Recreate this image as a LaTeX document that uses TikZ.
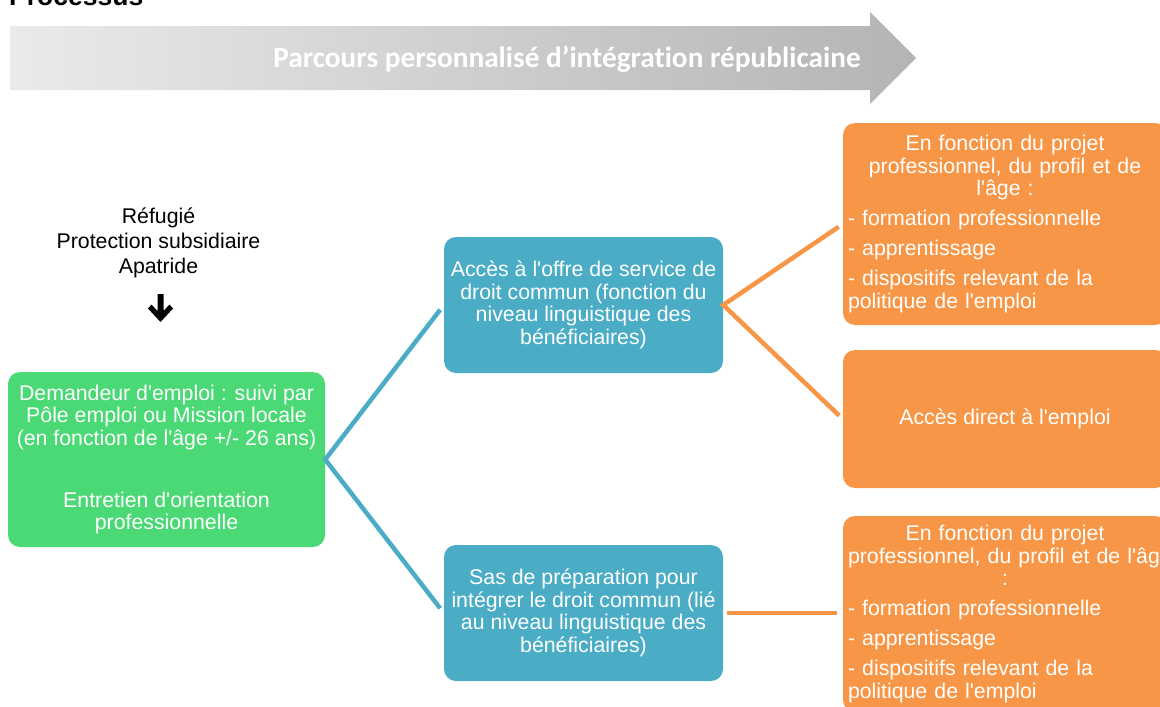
\documentclass[tikz,border=0pt]{standalone}
\usepackage{fontspec}
\setmainfont{Liberation Sans}
\newfontfamily\arialf{Liberation Sans}
\newfontfamily\calibrifont{Carlito}[Ligatures=NoCommon]
\definecolor{greenc}{HTML}{4AD974}
\definecolor{tealc}{HTML}{4BACC6}
\definecolor{orangec}{HTML}{F79646}
\definecolor{bannerL}{HTML}{EAEAEA}
\definecolor{bannerR}{HTML}{B4B4B4}
\begin{document}
\begin{tikzpicture}[x=1pt,y=-1pt,
  box/.style={rounded corners=12pt, inner sep=5pt, text=white, draw=none,
    font=\arialf\fontsize{21.3}{22.5}\selectfont},
  tealline/.style={draw=tealc, line width=4.5pt, line join=miter},
  orangeline/.style={draw=orangec, line width=4.5pt, line join=miter}]
\useasboundingbox (0,0) rectangle (1160,707);

% title
\node[anchor=base west, inner sep=0pt, font=\arialf\bfseries\fontsize{26.5}{30}\selectfont] (title) at (9,5) {Processus};

% banner arrow
\shade[left color=bannerL, right color=bannerR]
  (10,26) -- (870,26) -- (870,12) -- (916,58) -- (870,104) -- (870,90) -- (10,90) -- cycle;
\node[anchor=base, inner sep=0pt, text=white, font=\calibrifont\bfseries\fontsize{29.3}{34}\selectfont] (banner) at (567,67) {Parcours personnalisé d’intégration républicaine};

% statuses
\node[align=center, inner sep=0pt, font=\arialf\fontsize{21.3}{25}\selectfont] (statuts) at (158.5,243) {Réfugié\\Protection subsidiaire\\Apatride};
\fill (157.5,294) -- (163.5,294) -- (163.5,311) -- (169.5,304.5) -- (173,308.5) -- (160.5,322) -- (148,308.5) -- (151.5,304.5) -- (157.5,311) -- cycle;

% green box
\node[box, fill=greenc, minimum width=317pt, minimum height=175pt, align=center] (green) at (166.5,459.5)
  {Demandeur d'emploi : suivi par\\Pôle emploi ou Mission locale\\(en fonction de l'âge +/- 26 ans)\\[39.5pt]Entretien d'orientation\\professionnelle};

% teal boxes
\node[box, fill=tealc, minimum width=279pt, minimum height=136pt, align=center] (tealtop) at (583.5,305)
  {Accès à l'offre de service de\\droit commun (fonction du\\niveau linguistique des\\bénéficiaires)};
\node[box, fill=tealc, minimum width=279pt, minimum height=136pt, align=center] (tealbot) at (583.5,613)
  {Sas de préparation pour\\intégrer le droit commun (lié\\au niveau linguistique des\\bénéficiaires)};

% orange boxes
\node[box, fill=orangec, minimum width=324pt, minimum height=202pt, text width=314pt] (otop) at (1005,224)
  {\centering \mbox{En fonction du projet}\\\mbox{professionnel, du profil et de}\\\mbox{l'âge :}\par\vspace{7.5pt}\raggedright
   \mbox{- formation professionnelle}\par\vspace{7.5pt}\mbox{- apprentissage}\par\vspace{7.5pt}\mbox{- dispositifs relevant de la}\\\mbox{politique de l'emploi}\par};
\node[box, fill=orangec, minimum width=324pt, minimum height=138pt, align=center] (omid) at (1005,419)
  {Accès direct à l'emploi};
\node[box, fill=orangec, minimum width=324pt, minimum height=196pt, text width=314pt] (obot) at (1005,614)
  {\centering \mbox{En fonction du projet}\\\mbox{professionnel, du profil et de l'âge}\\\mbox{:}\par\vspace{7.5pt}\raggedright
   \mbox{- formation professionnelle}\par\vspace{7.5pt}\mbox{- apprentissage}\par\vspace{7.5pt}\mbox{- dispositifs relevant de la}\\\mbox{politique de l'emploi}\par};

% connectors
\draw[tealline, shorten <=6pt, shorten >=6pt] (tealtop.west) -- (green.east) -- (tealbot.west);
\draw[orangeline, shorten <=5pt, shorten >=5pt] (otop.west) -- (tealtop.east) -- (omid.west);
\draw[orangeline, shorten <=4pt, shorten >=6pt] (tealbot.east) -- (tealbot.east -| obot.west);
\end{tikzpicture}
\end{document}
